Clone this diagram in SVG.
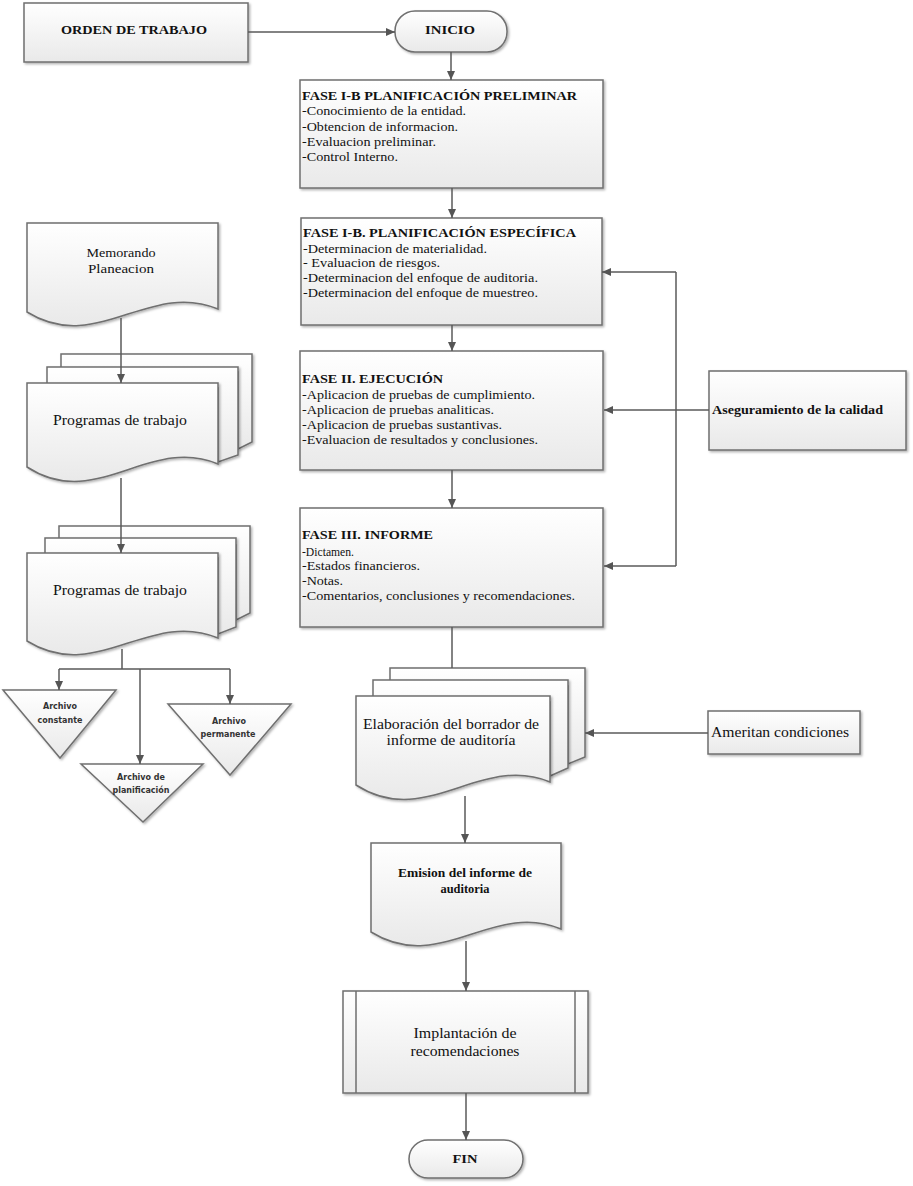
<svg xmlns="http://www.w3.org/2000/svg" width="913" height="1186" viewBox="0 0 913 1186">
<defs>
<linearGradient id="g" x1="0" y1="0" x2="0" y2="1"><stop offset="0" stop-color="#ffffff"/><stop offset="1" stop-color="#e9e9e9"/></linearGradient>
<filter id="sh" x="-5%" y="-5%" width="115%" height="120%"><feDropShadow dx="1.5" dy="1.5" stdDeviation="1" flood-color="#000" flood-opacity="0.3"/></filter>
<marker id="ah" markerUnits="userSpaceOnUse" markerWidth="9" markerHeight="8" refX="9" refY="4" orient="auto"><path d="M0,0 L9,4 L0,8 z" fill="#555"/></marker>
</defs>
<style>
.s{fill:url(#g);stroke:#6f6f6f;stroke-width:1.5;filter:url(#sh)}
.n{fill:none;stroke:#6f6f6f;stroke-width:1.5}
.c{fill:none;stroke:#5a5a5a;stroke-width:1.5}
.a{marker-end:url(#ah)}
.t{font-family:"Liberation Serif",serif;fill:#111}
.tb{font-family:"Liberation Serif",serif;font-weight:bold;fill:#111}
.ph{font-size:12px}
.pt{font-size:13px}
.sm{font-family:"DejaVu Sans",sans-serif;font-size:8px;font-weight:bold;fill:#333}
</style>

<g id="orden">
<rect class="s" x="24" y="3" width="224" height="59"/>
<text class="tb" x="134" y="34" font-size="12" text-anchor="middle" textLength="146" lengthAdjust="spacingAndGlyphs">ORDEN DE TRABAJO</text>
</g>

<g id="inicio">
<rect class="s" x="395" y="11" width="112" height="41" rx="20"/>
<text class="tb" x="450" y="34" font-size="12" text-anchor="middle" textLength="50" lengthAdjust="spacingAndGlyphs">INICIO</text>
</g>

<g id="fase1">
<rect class="s" x="300" y="80" width="303" height="108"/>
<text class="tb pt" x="302" y="100" textLength="275" lengthAdjust="spacingAndGlyphs">FASE I-B PLANIFICACIÓN PRELIMINAR</text>
<text class="t ph" x="302" y="115" textLength="164" lengthAdjust="spacingAndGlyphs">-Conocimiento de la entidad.</text>
<text class="t ph" x="302" y="131" textLength="156" lengthAdjust="spacingAndGlyphs">-Obtencion de informacion.</text>
<text class="t ph" x="302" y="146" textLength="134" lengthAdjust="spacingAndGlyphs">-Evaluacion preliminar.</text>
<text class="t ph" x="302" y="161" textLength="96" lengthAdjust="spacingAndGlyphs">-Control Interno.</text>
</g>

<g id="fase1b">
<rect class="s" x="301" y="218" width="301" height="107"/>
<text class="tb pt" x="303" y="237" textLength="273" lengthAdjust="spacingAndGlyphs">FASE I-B. PLANIFICACIÓN ESPECÍFICA</text>
<text class="t ph" x="303" y="253" textLength="184" lengthAdjust="spacingAndGlyphs">-Determinacion de materialidad.</text>
<text class="t ph" x="303" y="267" textLength="137" lengthAdjust="spacingAndGlyphs">- Evaluacion de riesgos.</text>
<text class="t ph" x="303" y="282" textLength="235" lengthAdjust="spacingAndGlyphs">-Determinacion del enfoque de auditoria.</text>
<text class="t ph" x="303" y="297" textLength="235" lengthAdjust="spacingAndGlyphs">-Determinacion del enfoque de muestreo.</text>
</g>

<g id="fase2">
<rect class="s" x="300" y="351" width="303" height="119"/>
<text class="tb pt" x="302" y="383" textLength="141" lengthAdjust="spacingAndGlyphs">FASE II. EJECUCIÓN</text>
<text class="t ph" x="302" y="399" textLength="233" lengthAdjust="spacingAndGlyphs">-Aplicacion de pruebas de cumplimiento.</text>
<text class="t ph" x="302" y="414" textLength="192" lengthAdjust="spacingAndGlyphs">-Aplicacion de pruebas analiticas.</text>
<text class="t ph" x="302" y="429" textLength="200" lengthAdjust="spacingAndGlyphs">-Aplicacion de pruebas sustantivas.</text>
<text class="t ph" x="302" y="444" textLength="236" lengthAdjust="spacingAndGlyphs">-Evaluacion de resultados y conclusiones.</text>
</g>

<g id="fase3">
<rect class="s" x="300" y="508" width="303" height="119"/>
<text class="tb pt" x="302" y="539" textLength="131" lengthAdjust="spacingAndGlyphs">FASE III. INFORME</text>
<text class="t ph" x="302" y="556" textLength="52" lengthAdjust="spacingAndGlyphs">-Dictamen.</text>
<text class="t ph" x="302" y="570" textLength="118" lengthAdjust="spacingAndGlyphs">-Estados financieros.</text>
<text class="t ph" x="302" y="585" textLength="41" lengthAdjust="spacingAndGlyphs">-Notas.</text>
<text class="t ph" x="302" y="600" textLength="273" lengthAdjust="spacingAndGlyphs">-Comentarios, conclusiones y recomendaciones.</text>
</g>

<g id="aseguramiento">
<rect class="s" x="709" y="371" width="197" height="79"/>
<text class="tb" x="712" y="414" font-size="12" textLength="171" lengthAdjust="spacingAndGlyphs">Aseguramiento de la calidad</text>
</g>

<g id="memorando">
<path class="s" d="M27,223 H218 V309 C149,280 96,355 27,312 Z"/>
<text class="t" x="121" y="257" font-size="12" text-anchor="middle" textLength="69" lengthAdjust="spacingAndGlyphs">Memorando</text>
<text class="t" x="121" y="273" font-size="12" text-anchor="middle" textLength="66" lengthAdjust="spacingAndGlyphs">Planeacion</text>
</g>

<g id="programas1">
<path class="s" d="M61,354 H252 V442 L238,449 V372 H61 Z"/>
<path class="s" d="M47,367 H238 V455 L218,462 V388 H47 Z"/>
<path class="s" d="M27,383 H218 V464 C149,435 96,512 27,467 Z"/>
<text class="t" x="120" y="425" font-size="15" text-anchor="middle" textLength="134" lengthAdjust="spacingAndGlyphs">Programas de trabajo</text>
</g>

<g id="programas2">
<path class="s" d="M59,526 H250 V613 L236,620 V545 H59 Z"/>
<path class="s" d="M45,538 H236 V627 L218,634 V558 H45 Z"/>
<path class="s" d="M27,553 H218 V638 C149,609 96,684 27,641 Z"/>
<text class="t" x="120" y="595" font-size="15" text-anchor="middle" textLength="134" lengthAdjust="spacingAndGlyphs">Programas de trabajo</text>
</g>

<g id="archivo-constante">
<path class="s" d="M3,690 H116 L60,758 Z"/>
<text class="sm" x="60" y="709" text-anchor="middle">Archivo</text>
<text class="sm" x="60" y="723" text-anchor="middle">constante</text>
</g>

<g id="archivo-planificacion">
<path class="s" d="M81,764 H203 L143,822 Z"/>
<text class="sm" x="141" y="780" text-anchor="middle">Archivo de</text>
<text class="sm" x="141" y="793" text-anchor="middle">planificación</text>
</g>

<g id="archivo-permanente">
<path class="s" d="M168,704 H291 L230,775 Z"/>
<text class="sm" x="229" y="724" text-anchor="middle">Archivo</text>
<text class="sm" x="228" y="737" text-anchor="middle">permanente</text>
</g>

<g id="elaboracion">
<path class="s" d="M390,668 H585 V757 L568,764 V686 H390 Z"/>
<path class="s" d="M373,680 H568 V768 L550,776 V702 H373 Z"/>
<path class="s" d="M356,696 H550 V782 C480,753 426,830 356,785 Z"/>
<text class="t" x="451" y="729" font-size="14" text-anchor="middle" textLength="176" lengthAdjust="spacingAndGlyphs">Elaboración del borrador de</text>
<text class="t" x="451" y="745" font-size="14" text-anchor="middle" textLength="129" lengthAdjust="spacingAndGlyphs">informe de auditoría</text>
</g>

<g id="ameritan">
<rect class="s" x="708" y="711" width="152" height="43"/>
<text class="t" x="711" y="737" font-size="14" textLength="138" lengthAdjust="spacingAndGlyphs">Ameritan condiciones</text>
</g>

<g id="emision">
<path class="s" d="M371,843 H561 V929 C493,900 440,975 371,932 Z"/>
<text class="tb" x="465" y="877" font-size="11.5" text-anchor="middle" textLength="134" lengthAdjust="spacingAndGlyphs">Emision del informe de</text>
<text class="tb" x="465" y="893" font-size="11.5" text-anchor="middle" textLength="49" lengthAdjust="spacingAndGlyphs">auditoria</text>
</g>

<g id="implantacion">
<rect class="s" x="343" y="991" width="245" height="102"/>
<path class="n" d="M356,991 V1093 M575,991 V1093"/>
<text class="t" x="465" y="1038" font-size="14" text-anchor="middle" textLength="103" lengthAdjust="spacingAndGlyphs">Implantación de</text>
<text class="t" x="465" y="1056" font-size="14" text-anchor="middle" textLength="109" lengthAdjust="spacingAndGlyphs">recomendaciones</text>
</g>

<g id="fin">
<rect class="s" x="409" y="1140" width="114" height="38" rx="19"/>
<text class="tb" x="465" y="1163" font-size="12" text-anchor="middle" textLength="25" lengthAdjust="spacingAndGlyphs">FIN</text>
</g>

<g id="connectors">
<path class="c a" d="M248,32 H395"/>
<path class="c a" d="M451,52 V80"/>
<path class="c a" d="M452,188 V218"/>
<path class="c a" d="M452,325 V351"/>
<path class="c a" d="M452,470 V508"/>
<path class="c" d="M452,627 V668"/>
<path class="c a" d="M709,410 H604"/>
<path class="c" d="M676,272 V566"/>
<path class="c a" d="M676,272 H602"/>
<path class="c a" d="M676,566 H604"/>
<path class="c a" d="M708,733 H585"/>
<path class="c a" d="M465,796 V843"/>
<path class="c a" d="M466,941 V991"/>
<path class="c a" d="M466,1093 V1140"/>
<path class="c a" d="M121,318 V383"/>
<path class="c a" d="M121,478 V553"/>
<path class="c" d="M122,649 V669 M59,669 H230"/>
<path class="c a" d="M59,669 V690"/>
<path class="c a" d="M140,669 V764"/>
<path class="c a" d="M230,669 V704"/>
</g>
</svg>
